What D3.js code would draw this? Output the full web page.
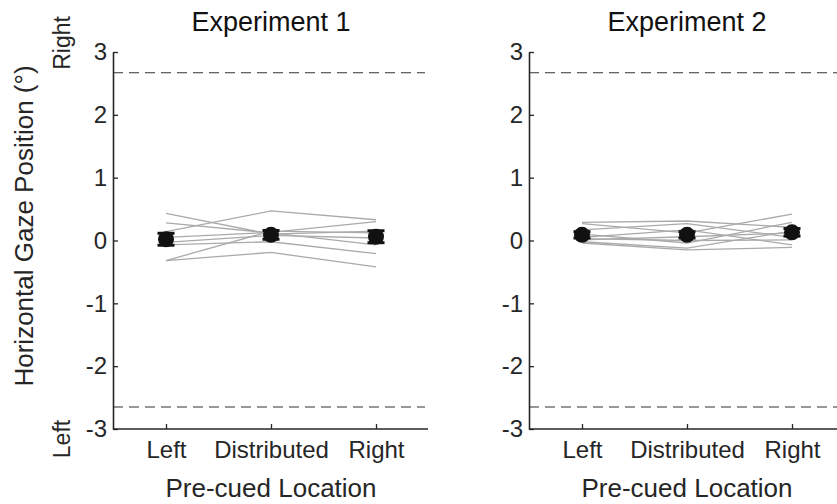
<!DOCTYPE html>
<html>
<head>
<meta charset="utf-8">
<script src="https://cdn.jsdelivr.net/npm/d3@7/dist/d3.min.js"></script>
<style>
  body { margin: 0; background: #fff; }
  svg { display: block; font-family: "Liberation Sans", Arial, sans-serif; }
</style>
</head>
<body>
<svg id="chart" width="837" height="504"></svg>
<script>
const conditions = ['Left', 'Distributed', 'Right'];
const yTicks = [-3, -2, -1, 0, 1, 2, 3];
const boundary = [2.67, -2.65];

// individual subjects, one row per subject: [Left, Distributed, Right]
const exp1Subjects = [
  [0.43, 0.10, 0.15],
  [0.28, 0.12, -0.07],
  [0.14, 0.47, 0.33],
  [0.05, 0.13, 0.30],
  [-0.03, 0.08, 0.04],
  [-0.07, -0.02, -0.21],
  [-0.32, 0.15, 0.12],
  [-0.32, -0.19, -0.42]
];
const exp1Mean = [0.02, 0.09, 0.06];
const exp1Err = [0.095, 0.07, 0.095];

const exp2Subjects = [
  [0.29, 0.31, 0.21],
  [0.27, 0.12, 0.42],
  [0.17, 0.27, 0.05],
  [0.10, -0.04, 0.29],
  [0.05, 0.17, -0.07],
  [0.01, 0.06, 0.12],
  [-0.02, -0.12, 0.15],
  [-0.04, -0.15, -0.11],
  [0.03, 0.00, 0.01]
];
const exp2Mean = [0.09, 0.09, 0.13];
const exp2Err = [0.05, 0.05, 0.06];

const svg = d3.select('#chart');
const y = d3.scaleLinear().domain([-3, 3]).range([429, 52]);
const ink = '#262626';

const panels = [
  {title: 'Experiment 1', left: 113, subjects: exp1Subjects, mean: exp1Mean, err: exp1Err},
  {title: 'Experiment 2', left: 529, subjects: exp2Subjects, mean: exp2Mean, err: exp2Err}
];

panels.forEach(p => {
  const x = d3.scalePoint().domain(conditions).range([p.left + 53, p.left + 263]);
  const g = svg.append('g');
  const right = p.left + 315;
  const mid = p.left + 158;

  // dashed screen boundaries
  boundary.forEach(b => {
    g.append('line')
      .attr('x1', p.left).attr('x2', right - 3)
      .attr('y1', y(b)).attr('y2', y(b))
      .attr('stroke', '#333').attr('stroke-width', 1.1)
      .attr('stroke-dasharray', '10,6');
  });

  // subject lines
  const line = d3.line().x((d, i) => x(conditions[i])).y(d => y(d));
  g.selectAll('.subj').data(p.subjects).enter().append('path')
    .attr('class', 'subj')
    .attr('d', line)
    .attr('fill', 'none')
    .attr('stroke', '#aaa')
    .attr('stroke-width', 1.3);

  // error bars + means
  p.mean.forEach((m, i) => {
    const cx = x(conditions[i]);
    const e = p.err[i];
    g.append('line').attr('x1', cx).attr('x2', cx)
      .attr('y1', y(m - e)).attr('y2', y(m + e))
      .attr('stroke', '#111').attr('stroke-width', 3);
    [m - e, m + e].forEach(v => {
      g.append('line').attr('x1', cx - 8.5).attr('x2', cx + 8.5)
        .attr('y1', y(v)).attr('y2', y(v))
        .attr('stroke', '#111').attr('stroke-width', 3);
    });
    g.append('circle').attr('cx', cx).attr('cy', y(m)).attr('r', 8)
      .attr('fill', '#111');
  });

  // axes (ticks point inward)
  const yAxis = d3.axisLeft(y).tickValues(yTicks).tickSizeInner(-5).tickSizeOuter(0).tickPadding(6);
  const ya = g.append('g').attr('transform', `translate(${p.left},0)`).call(yAxis);
  const xAxis = d3.axisBottom(x).tickSizeInner(-5).tickSizeOuter(0).tickPadding(12);
  const xa = g.append('g').attr('transform', `translate(0,${y(-3)})`).call(xAxis);
  xa.select('.domain').attr('d', `M${p.left},0H${right}`);
  [ya, xa].forEach(a => {
    a.select('.domain').attr('stroke', ink).attr('stroke-width', 1.6);
    a.selectAll('.tick line').attr('stroke', ink).attr('stroke-width', 1.3);
    a.selectAll('.tick text').attr('fill', ink).style('font-size', '24px')
      .style('font-family', '"Liberation Sans", Arial, sans-serif');
  });
  ya.selectAll('.tick text').text(d => d < 0 ? '-' + Math.abs(d) : d);

  svg.append('text').attr('x', mid).attr('y', 31)
    .attr('text-anchor', 'middle').style('font-size', '27px').attr('fill', '#111')
    .text(p.title);
  svg.append('text').attr('x', mid).attr('y', 497)
    .attr('text-anchor', 'middle').style('font-size', '26px').attr('fill', ink)
    .text('Pre-cued Location');
});

svg.append('text').attr('transform', 'translate(33,226) rotate(-90)')
  .attr('text-anchor', 'middle').style('font-size', '26px').attr('fill', ink)
  .text('Horizontal Gaze Position (°)');
svg.append('text').attr('transform', 'translate(70,43) rotate(-90)')
  .attr('text-anchor', 'middle').style('font-size', '23px').attr('fill', ink)
  .text('Right');
svg.append('text').attr('transform', 'translate(70,439) rotate(-90)')
  .attr('text-anchor', 'middle').style('font-size', '23px').attr('fill', ink)
  .text('Left');
</script>
</body>
</html>
